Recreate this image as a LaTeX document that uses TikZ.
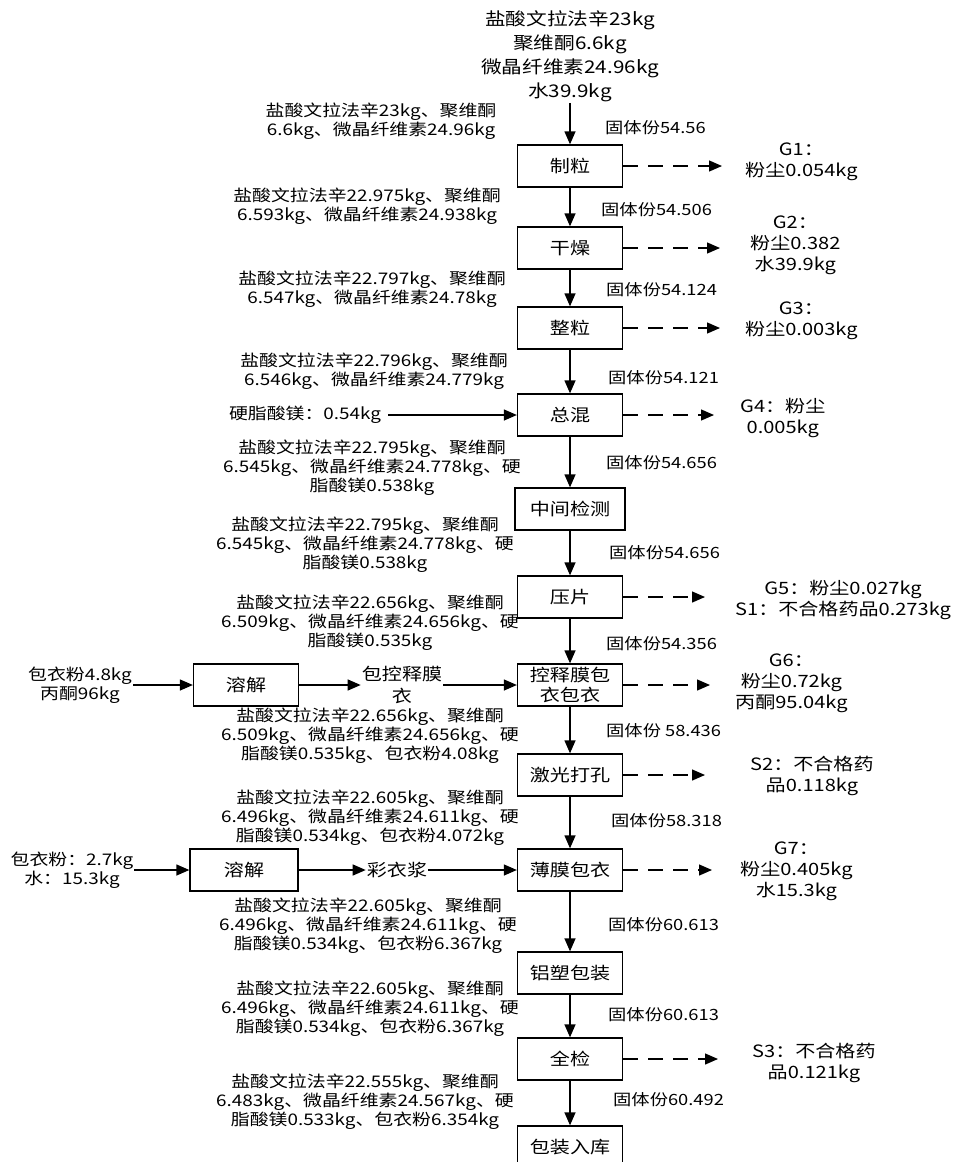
\documentclass[tikz,border=0pt]{standalone}
\usepackage{fontspec}
\setmainfont{Noto Sans CJK SC}[FakeStretch=1.18]
\usetikzlibrary{arrows.meta}

\begin{document}
\begin{tikzpicture}[x=1pt,y=-1pt,
      box/.style={draw,line width=1.3pt,minimum width=105pt,minimum height=42pt,inner sep=2pt,align=center,font=\fontsize{17}{21}\selectfont},
      note/.style={align=center,inner sep=1pt,font=\fontsize{16}{19}\selectfont},
      gu/.style={anchor=west,inner sep=1pt,font=\fontsize{15.5}{19}\selectfont},
      outp/.style={anchor=west,align=center,inner sep=3pt,font=\fontsize{17}{21}\selectfont},
      arr/.style={-{Triangle[length=13pt,width=11pt]},line width=1.3pt},
      darr/.style={arr,dash pattern=on 15pt off 10pt}]
    \useasboundingbox (0,0) rectangle (966,1162);
    \clip (0,0) rectangle (966,1162);
    % raw materials
    \node[align=center,inner sep=1pt,font=\fontsize{17.5}{24}\selectfont] (in) at (570,56)
      {盐酸文拉法辛23kg\\聚维酮6.6kg\\微晶纤维素24.96kg\\水39.9kg};
    % main process column
    \node[box] (zhili)    at (570,166)  {制粒};
    \node[box] (ganzao)   at (570,248)  {干燥};
    \node[box] (zhengli)  at (570,328)  {整粒};
    \node[box] (zonghun)  at (570,415)  {总混};
    \node[box,minimum width=110pt] (jiance) at (570,509) {中间检测};
    \node[box] (yapian)   at (570,597)  {压片};
    \node[box,inner sep=1pt,font=\fontsize{17}{20}\selectfont] (kongshi) at (570,685) {控释膜包\\衣包衣};
    \node[box] (jiguang)  at (570,775)  {激光打孔};
    \node[box] (bomo)     at (570,870)  {薄膜包衣};
    \node[box] (lusu)     at (570,973)  {铝塑包装};
    \node[box] (quanjian) at (570,1059) {全检};
    \node[box] (ruku)     at (570,1147) {包装入库};
    \foreach \a/\b in {in/zhili,zhili/ganzao,ganzao/zhengli,zhengli/zonghun,zonghun/jiance,
        jiance/yapian,yapian/kongshi,kongshi/jiguang,jiguang/bomo,bomo/lusu,lusu/quanjian,quanjian/ruku}
      \draw[arr] (\a) -- (\b);
    % material balance notes (left)
    \node[note] (n1)  at (381,121)  {盐酸文拉法辛23kg、聚维酮\\6.6kg、微晶纤维素24.96kg};
    \node[note] (n2)  at (367,206)  {盐酸文拉法辛22.975kg、聚维酮\\6.593kg、微晶纤维素24.938kg};
    \node[note] (n3)  at (372,289)  {盐酸文拉法辛22.797kg、聚维酮\\6.547kg、微晶纤维素24.78kg};
    \node[note] (n4)  at (374,371)  {盐酸文拉法辛22.796kg、聚维酮\\6.546kg、微晶纤维素24.779kg};
    \node[note] (n5)  at (372,468)  {盐酸文拉法辛22.795kg、聚维酮\\6.545kg、微晶纤维素24.778kg、硬\\脂酸镁0.538kg};
    \node[note] (n6)  at (365,545)  {盐酸文拉法辛22.795kg、聚维酮\\6.545kg、微晶纤维素24.778kg、硬\\脂酸镁0.538kg};
    \node[note] (n7)  at (370,623)  {盐酸文拉法辛22.656kg、聚维酮\\6.509kg、微晶纤维素24.656kg、硬\\脂酸镁0.535kg};
    \node[note] (n8)  at (370,736)  {盐酸文拉法辛22.656kg、聚维酮\\6.509kg、微晶纤维素24.656kg、硬\\脂酸镁0.535kg、包衣粉4.08kg};
    \node[note] (n9)  at (370,818)  {盐酸文拉法辛22.605kg、聚维酮\\6.496kg、微晶纤维素24.611kg、硬\\脂酸镁0.534kg、包衣粉4.072kg};
    \node[note] (n10) at (368,926)  {盐酸文拉法辛22.605kg、聚维酮\\6.496kg、微晶纤维素24.611kg、硬\\脂酸镁0.534kg、包衣粉6.367kg};
    \node[note] (n11) at (370,1009) {盐酸文拉法辛22.605kg、聚维酮\\6.496kg、微晶纤维素24.611kg、硬\\脂酸镁0.534kg、包衣粉6.367kg};
    \node[note] (n12) at (365,1102) {盐酸文拉法辛22.555kg、聚维酮\\6.483kg、微晶纤维素24.567kg、硬\\脂酸镁0.533kg、包衣粉6.354kg};
    % solid content (right of arrows)
    \node[gu] (gu1)  at (604,128)  {固体份54.56};
    \node[gu] (gu2)  at (600,210)  {固体份54.506};
    \node[gu] (gu3)  at (605,290)  {固体份54.124};
    \node[gu] (gu4)  at (607,378)  {固体份54.121};
    \node[gu] (gu5)  at (605,463)  {固体份54.656};
    \node[gu] (gu6)  at (608,553)  {固体份54.656};
    \node[gu] (gu7)  at (605,644)  {固体份54.356};
    \node[gu] (gu8)  at (605,731)  {固体份 58.436};
    \node[gu] (gu9)  at (610,821)  {固体份58.318};
    \node[gu] (gu10) at (607,925)  {固体份60.613};
    \node[gu] (gu11) at (607,1015) {固体份60.613};
    \node[gu] (gu12) at (612,1100) {固体份60.492};
    % extra inputs
    \node[note] (mg) at (305,415) {硬脂酸镁：0.54kg};
    \draw[arr,shorten <=6pt] (mg) -- (zonghun);
    \node[note] (bao1) at (80,685) {包衣粉4.8kg\\丙酮96kg};
    \node[box] (rongjie1) at (246,685) {溶解};
    \node[note,font=\fontsize{17}{22}\selectfont] (kmy) at (402,685) {包控释膜\\衣};
    \draw[arr] (bao1) -- (rongjie1);
    \draw[arr] (rongjie1) -- (kmy);
    \draw[arr] (kmy) -- (kongshi);
    \node[note] (bao2) at (72,870) {包衣粉：2.7kg\\水：15.3kg};
    \node[box,minimum width=108pt] (rongjie2) at (244,870) {溶解};
    \node[note,font=\fontsize{17}{22}\selectfont] (cyj) at (397,870) {彩衣浆};
    \draw[arr] (bao2) -- (rongjie2);
    \draw[arr] (rongjie2) -- (cyj);
    \draw[arr] (cyj) -- (bomo);
    % emissions
    \node[outp] (o1) at (742,162)  {G1：\\粉尘0.054kg};
    \node[outp] (o2) at (747,245)  {G2：\\粉尘0.382\\水39.9kg};
    \node[outp] (o3) at (742,321)  {G3：\\粉尘0.003kg};
    \node[outp] (o4) at (737,418)  {G4：粉尘\\0.005kg};
    \node[outp] (o5) at (732,600)  {G5：粉尘0.027kg\\S1：不合格药品0.273kg};
    \node[outp] (o6) at (732,683)  {G6：\\粉尘0.72kg\\丙酮95.04kg};
    \node[outp] (o7) at (747,776)  {S2：不合格药\\品0.118kg};
    \node[outp] (o8) at (737,871)  {G7：\\粉尘0.405kg\\水15.3kg};
    \node[outp] (o9) at (749,1063) {S3：不合格药\\品0.121kg};
    \foreach \a/\b/\g in {zhili/o1/20,ganzao/o2/27,zhengli/o3/22,zonghun/o4/23,yapian/o5/27,
        kongshi/o6/22,jiguang/o7/42,bomo/o8/25,quanjian/o9/31}
      \draw[darr,shorten >=\g pt] (\a.east) -- (\a.east -| \b.west);
\end{tikzpicture}
\end{document}
